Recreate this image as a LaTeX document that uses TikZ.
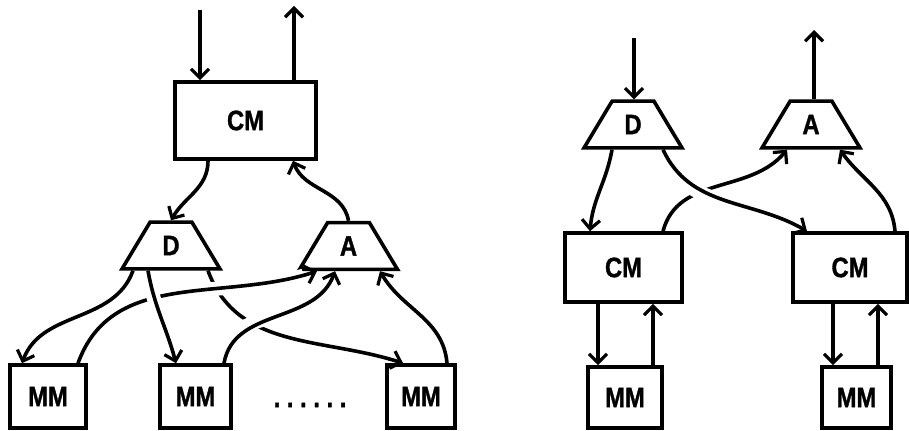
\documentclass[tikz,border=0pt]{standalone}
\usepackage{fontspec}
\newfontfamily\labfont[FakeStretch=0.85,FakeBold=1.2]{Liberation Sans Bold}
\usetikzlibrary{shapes.geometric,arrows.meta}
\tikzset{
  lab/.style={font=\labfont\fontsize{14}{14}\selectfont},
  box/.style={draw,line width=1.8pt,lab,inner sep=0pt},
  mux/.style={draw,line width=1.8pt,trapezium,trapezium angle=59,
    minimum width=49pt,minimum height=22pt,inner sep=0pt,lab},
  wire/.style={line width=1.8pt,-{Straight Barb[length=4.5pt,width=9pt,line width=1.6pt]}},
  bridge/.style={preaction={draw,white,line width=7pt,-,shorten <=7pt,shorten >=7pt}}
}
\begin{document}
\begin{tikzpicture}[x=0.5pt,y=-0.5pt]
\useasboundingbox (0,0) rectangle (909,431);

\node[box,minimum width=70.5pt,minimum height=38.5pt] (cm) at (245.5,120.5) {CM};
\node[mux] (d) at (171,245.5) {D};
\node[mux] (a) at (348.5,246) {A};
\node[box,minimum width=38pt,minimum height=31.5pt] (mm1) at (48,396.5) {MM};
\node[box,minimum width=35.5pt,minimum height=31.5pt] (mm2) at (195.5,396.5) {MM};
\node[box,minimum width=34pt,minimum height=31.5pt] (mm3) at (421,396.5) {MM};
\node[lab] (dots) at (310,405) {.\ .\ .\ .\ .\ .};

\node[mux] (d2) at (633,124.5) {D};
\node[mux] (a2) at (811,124.5) {A};
\node[box,minimum width=58.5pt,minimum height=34.5pt] (cm2) at (623.5,267.5) {CM\hspace{7.5pt}};
\node[box,minimum width=57pt,minimum height=34.5pt] (cm3) at (850,267.5) {CM\hspace{8.5pt}};
\node[box,minimum width=37pt,minimum height=30.5pt] (mm4) at (625,397.5) {MM};
\node[box,minimum width=34.5pt,minimum height=30.5pt] (mm5) at (856.5,397.5) {MM};

\coordinate (in1) at (200,10);
\coordinate (out1) at (294,6);
\coordinate (in2) at (634,38);
\coordinate (out2) at (814,30);

\draw[wire] (in1) -- (in1 |- cm.north);
\draw[wire] (out1 |- cm.north) -- (out1);
\draw[wire] ([xshift=-18.75pt]cm.south) to[out=-90,in=60] (d.north);
\draw[wire] (a.north) to[out=100,in=-70] ([xshift=23.75pt]cm.south);

\draw[wire] ([xshift=-19pt]d.south) to[out=-110,in=70] ([xshift=-13pt]mm1.north);
\draw[wire] ([xshift=18.5pt]d.south) to[out=-70,in=162] ([xshift=-9pt]mm3.north);
\draw[wire,bridge] ([xshift=15pt]mm1.north) to[out=70,in=-162] ([xshift=-15.75pt]a.south);
\draw[wire,bridge] ([xshift=14.25pt]mm2.north) to[out=80,in=-110] ([xshift=-6.75pt]a.south);
\draw[wire,bridge] ([xshift=-11.5pt]d.south) to[out=-80,in=105] ([xshift=-9.75pt]mm2.north);
\draw[wire] ([xshift=13pt]mm3.north) to[out=95,in=-60] ([xshift=15.75pt]a.south);

\draw[wire] (in2) -- (in2 |- d2.north);
\draw[wire] (out2 |- a2.north) -- (out2);
\draw[wire] ([xshift=-10.5pt]d2.south) to[out=-100,in=85] ([xshift=-16.75pt]cm2.north);
\draw[wire] ([xshift=19.75pt]cm2.north) to[out=75,in=-130] ([xshift=-12pt]a2.south);
\draw[wire,bridge] ([xshift=15pt]d2.south) to[out=-65,in=150] ([xshift=-21.5pt]cm3.north);
\draw[wire] ([xshift=22.5pt]cm3.north) to[out=95,in=-55] ([xshift=14.5pt]a2.south);

\draw[wire] ([xshift=-12.75pt]cm2.south) -- ([xshift=-12.75pt]cm2.south |- mm4.north);
\draw[wire] ([xshift=14.75pt]cm2.south |- mm4.north) -- ([xshift=14.75pt]cm2.south);
\draw[wire] ([xshift=-8.5pt]cm3.south) -- ([xshift=-8.5pt]cm3.south |- mm5.north);
\draw[wire] ([xshift=14pt]cm3.south |- mm5.north) -- ([xshift=14pt]cm3.south);
\end{tikzpicture}
\end{document}
